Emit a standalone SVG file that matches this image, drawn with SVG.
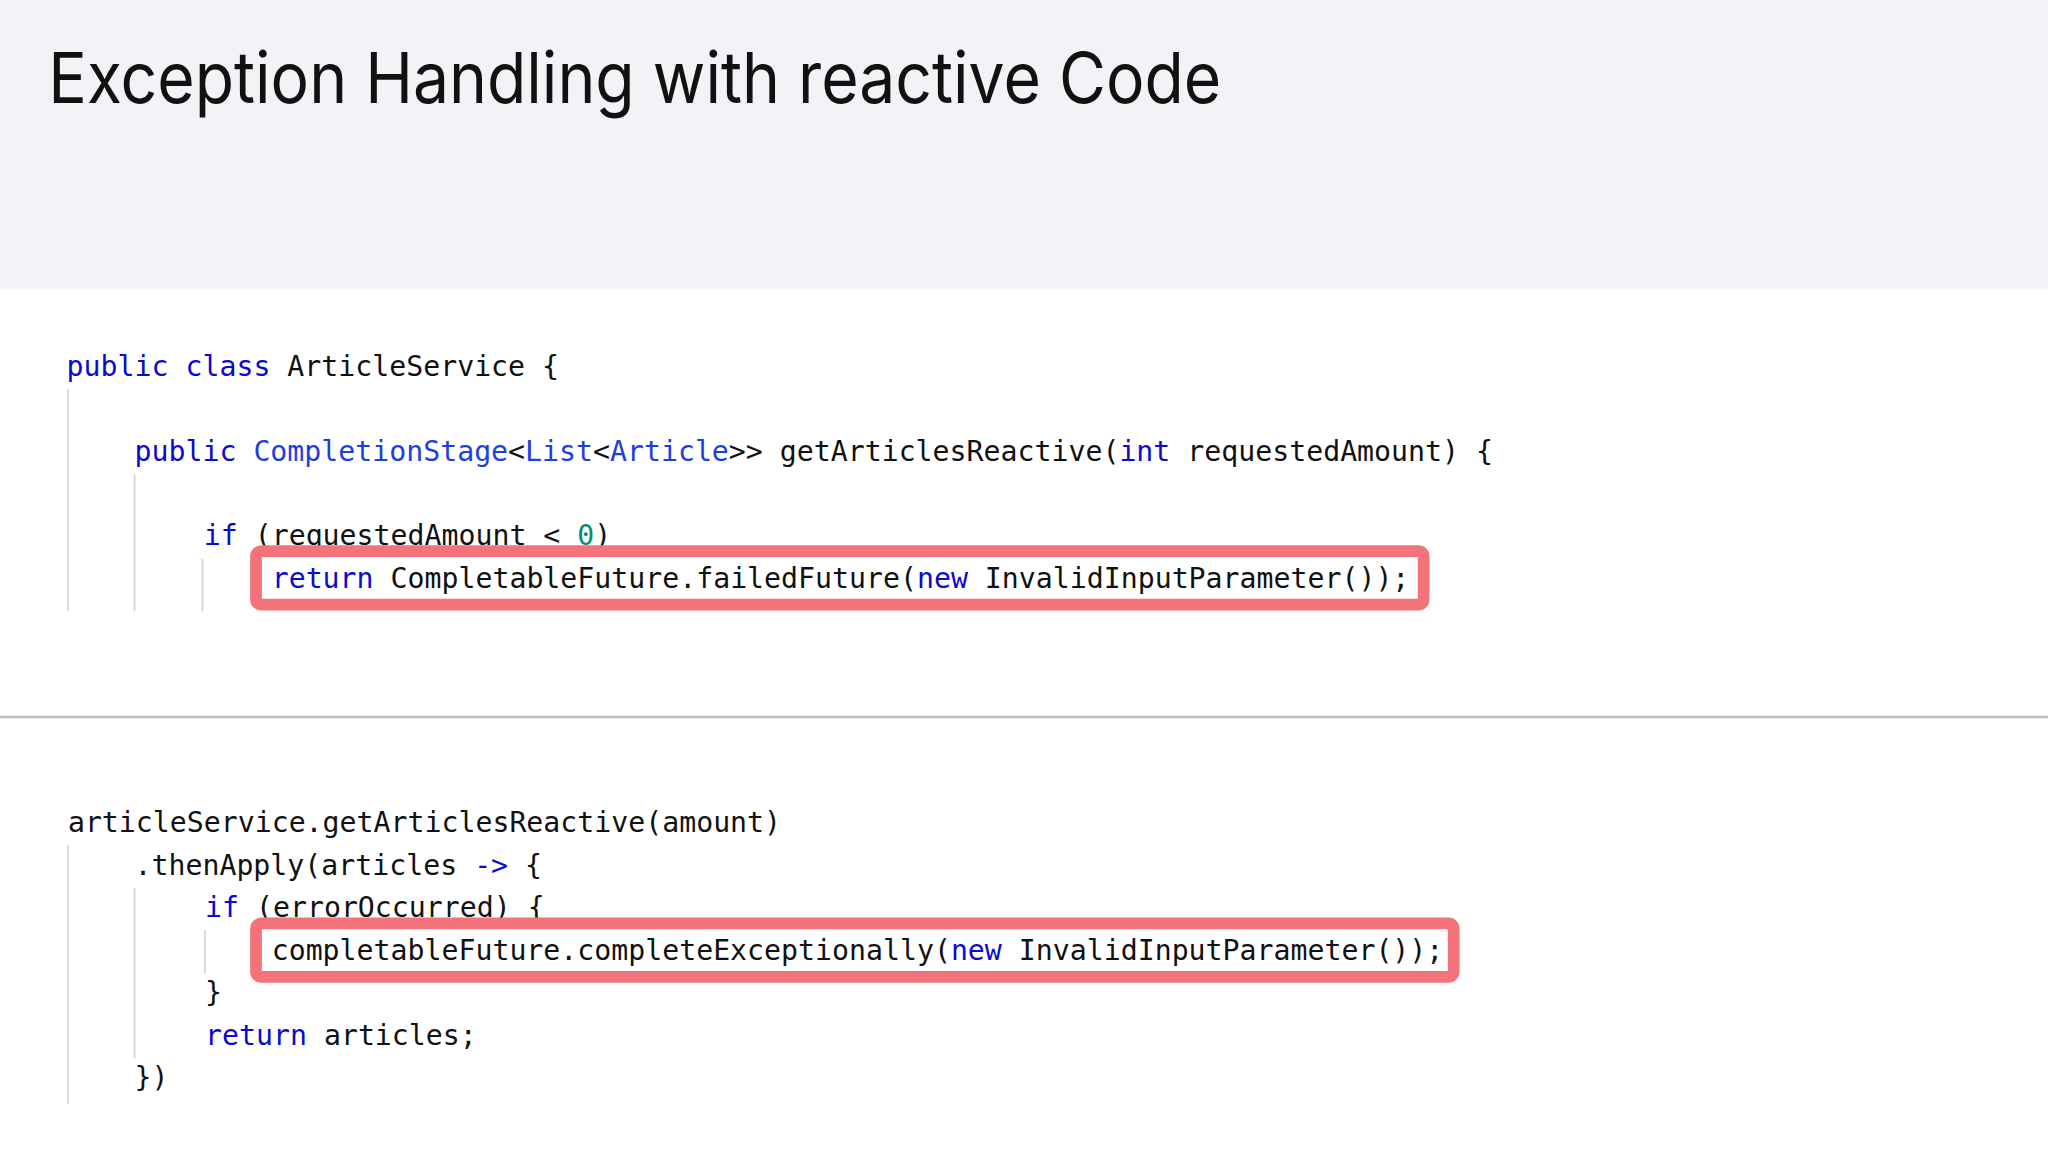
<svg xmlns="http://www.w3.org/2000/svg" width="2048" height="1152" viewBox="0 0 2048 1152">
<style>
.c{font-family:"DejaVu Sans Mono","Liberation Mono",monospace;font-size:21.6px;fill:#111}
.k{fill:#0a0ad0}
.t{fill:#1d3ee0}
.n{fill:#0b8a6a}
.g{stroke:#d8d8d8;stroke-width:1.5}
.r{fill:none;stroke:#f4737a;stroke-width:9}
</style>
<rect width="2048" height="1152" fill="#fff"/>
<g transform="scale(1.30612)">
<g id="header">
<rect x="0" y="0" width="1568" height="221" fill="#f2f3f7"/>
<text x="37" y="79" font-family="Inter,'Liberation Sans',sans-serif" font-size="54" fill="#111" textLength="898" lengthAdjust="spacingAndGlyphs">Exception Handling with reactive Code</text>
</g>
<g id="code1">
<line class="g" x1="52" y1="298" x2="52" y2="468"/>
<line class="g" x1="103" y1="363" x2="103" y2="468"/>
<line class="g" x1="155" y1="428" x2="155" y2="468"/>
<text class="c" x="51" y="288" xml:space="preserve"><tspan class="k">public class</tspan> ArticleService {</text>
<text class="c" x="103" y="353" xml:space="preserve"><tspan class="k">public</tspan> <tspan class="t">CompletionStage</tspan>&lt;<tspan class="t">List</tspan>&lt;<tspan class="t">Article</tspan>&gt;&gt; getArticlesReactive(<tspan class="k">int</tspan> requestedAmount) {</text>
<text class="c" x="156" y="417" xml:space="preserve"><tspan class="k">if</tspan> (requestedAmount &lt; <tspan class="n">0</tspan>)</text>
<rect class="r" x="196" y="422" width="894" height="41" rx="4"/>
<text class="c" x="208" y="450" xml:space="preserve"><tspan class="k">return</tspan> CompletableFuture.failedFuture(<tspan class="k">new</tspan> InvalidInputParameter());</text>
</g>
<line x1="0" y1="549" x2="1568" y2="549" stroke="#bdbdbd" stroke-width="2"/>
<g id="code2">
<line class="g" x1="52" y1="647" x2="52" y2="845"/>
<line class="g" x1="103" y1="680" x2="103" y2="810"/>
<line class="g" x1="157" y1="712" x2="157" y2="745"/>
<text class="c" x="52" y="637" xml:space="preserve">articleService.getArticlesReactive(amount)</text>
<text class="c" x="103" y="670" xml:space="preserve">.thenApply(articles <tspan class="k">-&gt;</tspan> {</text>
<text class="c" x="157" y="702" xml:space="preserve"><tspan class="k">if</tspan> (errorOccurred) {</text>
<rect class="r" x="196" y="707" width="917" height="41" rx="4"/>
<text class="c" x="208" y="735" xml:space="preserve">completableFuture.completeExceptionally(<tspan class="k">new</tspan> InvalidInputParameter());</text>
<text class="c" x="157" y="767" xml:space="preserve">}</text>
<text class="c" x="157" y="800" xml:space="preserve"><tspan class="k">return</tspan> articles;</text>
<text class="c" x="103" y="832" xml:space="preserve">})</text>
</g>
</g>
</svg>
